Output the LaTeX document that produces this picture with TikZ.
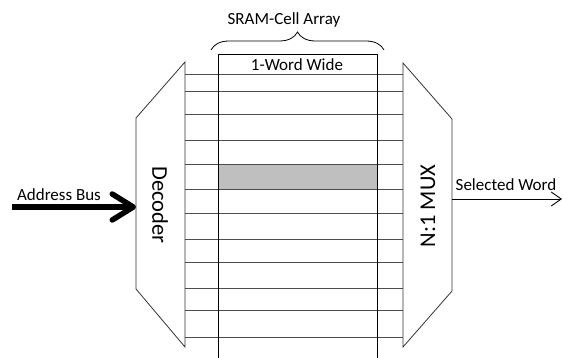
\documentclass[tikz,border=0pt]{standalone}
\usepackage{fontspec}
\setmainfont{Carlito}
\usetikzlibrary{arrows.meta,decorations.pathreplacing}
\definecolor{cellgray}{HTML}{BFBFBF}
\begin{document}
\begin{tikzpicture}[x=1pt,y=-1pt,
  lbl/.style={inner sep=0pt,font=\fontsize{17}{20}\selectfont},
  blocklbl/.style={inner sep=0pt,font=\fontsize{22.5}{26}\selectfont},
  outline/.style={draw=black!80,line width=0.8pt,line join=miter},
  rowline/.style={draw=black!70,line width=0.8pt},
  colline/.style={draw=black,line width=0.8pt},
  busarrow/.style={line width=5.5pt,-{Straight Barb[length=21pt,width=26pt,round]}},
  outarrow/.style={line width=0.9pt,-{Straight Barb[length=10pt,width=14pt]}}]
\useasboundingbox (0,0) rectangle (563,358);

% decoder and multiplexer outlines
\coordinate (d1) at (185,62);  \coordinate (d2) at (136,118);
\coordinate (d3) at (136,289); \coordinate (d4) at (185,347);
\coordinate (m1) at (403,63);  \coordinate (m2) at (452,119);
\coordinate (m3) at (452,291); \coordinate (m4) at (403,347);

% selected word row
\fill[cellgray] (218,164) rectangle (377,189);

% word lines running across the array
\foreach \yy in {74,91,114,140,164,189,213,239,262,288,310,337}
  \draw[rowline] (185,\yy) -- (403,\yy);

% one-word-wide column
\draw[colline] (218,358) -- (218,54) -- (377,54) -- (377,358);

\draw[outline] (d1) -- (d2) -- (d3) -- (d4) -- cycle;
\draw[outline] (m1) -- (m2) -- (m3) -- (m4) -- cycle;

% brace over the cell array
\coordinate (brl) at (211,50);
\coordinate (brr) at (384,50);
\draw[line width=0.8pt,decorate,decoration={brace,amplitude=18pt}] (brl) -- (brr);

% labels
\node[lbl] (sram) at (284,20) {SRAM-Cell Array};
\node[lbl] (word) at (297,65) {1-Word Wide};
\node[blocklbl,rotate=-90] (dec) at (160,205) {Decoder};
\node[blocklbl,rotate=90] (mux) at (428,206) {N:1 MUX};
\node[lbl] (abus) at (59,195) {Address Bus};
\node[lbl] (sel) at (506,185) {Selected Word};

% input and output connections
\coordinate (abstart) at (12,207);
\coordinate (decin) at (136,207);
\draw[busarrow] (abstart) -- (decin);
\coordinate (muxout) at (452,199);
\coordinate (selend) at (562,199);
\draw[outarrow] (muxout) -- (selend);
\end{tikzpicture}
\end{document}
